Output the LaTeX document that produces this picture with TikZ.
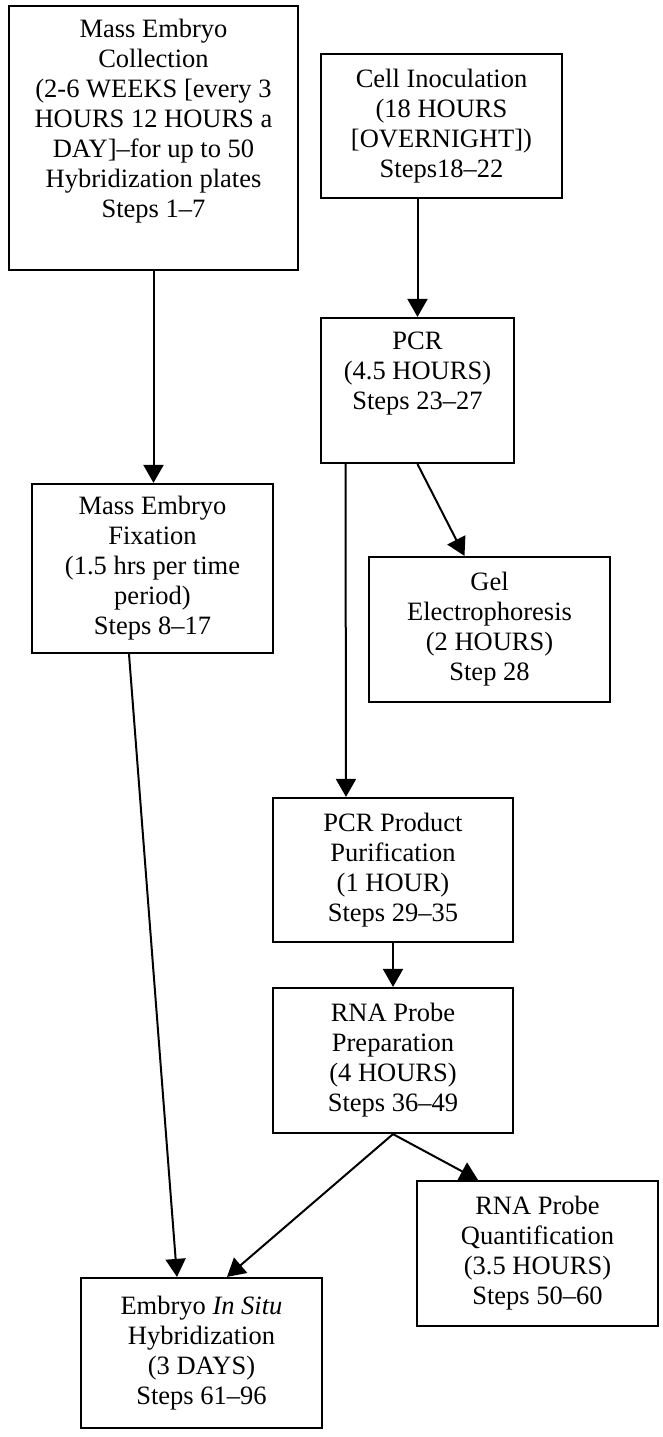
\documentclass[tikz,border=0pt]{standalone}
\usepackage{fontspec}
\setmainfont{Liberation Serif}
\usetikzlibrary{arrows.meta}
\begin{document}
\begin{tikzpicture}[x=1pt,y=-1pt,
  stepbox/.style={draw=black, line width=2.2pt, fill=white, align=center,
    inner sep=0pt, font=\fontsize{26.5}{30}\selectfont},
  flow/.style={line width=2pt, -{Triangle[length=18pt,width=20pt]}}]
\useasboundingbox[fill=white] (0,0) rectangle (662,1437);

% process steps (centre, width, height in page units)
\node[stepbox, minimum width=289pt, minimum height=264pt] (coll) at (153.5,138)
  {Mass Embryo\\Collection\\(2-6 WEEKS [every 3\\HOURS 12 HOURS a\\DAY]--for up to 50\\Hybridization plates\\Steps 1--7\\ \strut};
\node[stepbox, minimum width=241pt, minimum height=144pt] (cell) at (441.5,126)
  {Cell Inoculation\\(18 HOURS\\{[OVERNIGHT])}\\Steps18--22};
\node[stepbox, minimum width=193pt, minimum height=145pt] (pcr) at (417.5,390.5)
  {PCR\\(4.5 HOURS)\\Steps 23--27\\ \strut};
\node[stepbox, minimum width=241pt, minimum height=169pt] (fix) at (152.5,568.5)
  {Mass Embryo\\Fixation\\(1.5 hrs per time\\period)\\Steps 8--17};
\node[stepbox, minimum width=241pt, minimum height=145pt] (gel) at (489.5,629.5)
  {Gel\\Electrophoresis\\(2 HOURS)\\Step 28};
\node[stepbox, minimum width=240pt, minimum height=144pt] (prod) at (393,870)
  {PCR Product\\Purification\\(1 HOUR)\\Steps 29--35};
\node[stepbox, minimum width=240pt, minimum height=145pt] (rna) at (393,1060.5)
  {RNA Probe\\Preparation\\(4 HOURS)\\Steps 36--49};
\node[stepbox, minimum width=241pt, minimum height=145pt] (quant) at (537.5,1253.5)
  {RNA Probe\\Quantification\\(3.5 HOURS)\\Steps 50--60};
\node[stepbox, minimum width=241pt, minimum height=150pt] (emb) at (201.5,1353)
  {Embryo \textit{In Situ}\\Hybridization\\(3 DAYS)\\Steps 61--96};

% connectors
\draw[flow] (coll.south) -- (coll.south |- fix.north);
\draw[flow] (pcr.north |- cell.south) -- (pcr.north);
\draw[flow] (pcr.south) -- ([xshift=-25pt]gel.north);
\draw[flow] ([xshift=-72pt]pcr.south) -- ([xshift=-47pt]prod.north);
\draw[flow] ([xshift=-23.5pt]fix.south) -- ([xshift=-24.5pt]emb.north);
\draw[flow] (prod.south) -- (rna.north);
\draw[flow] (rna.south) -- ([xshift=25.5pt]emb.north);
\draw[flow] (rna.south) -- ([xshift=-59.5pt]quant.north);
\end{tikzpicture}
\end{document}
